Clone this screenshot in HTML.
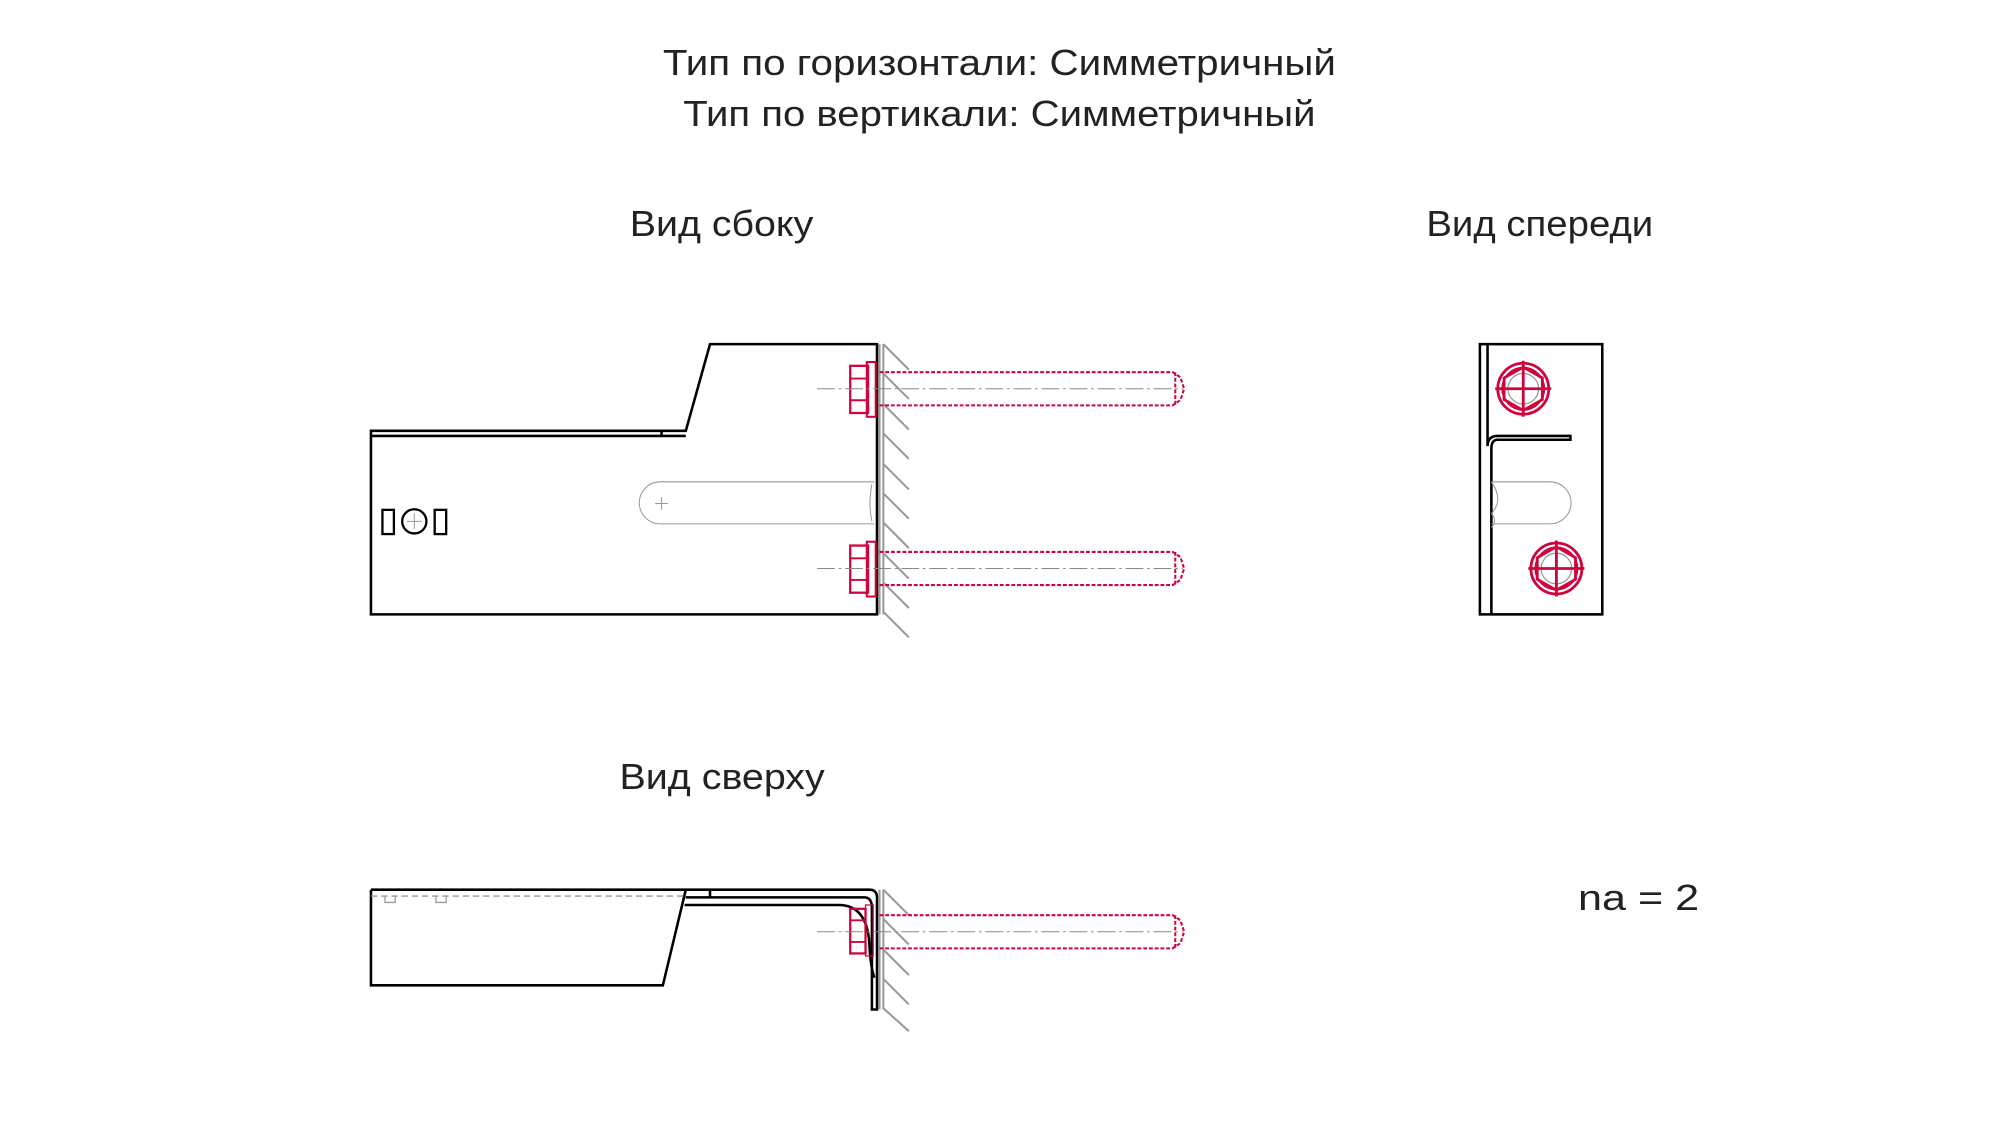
<!DOCTYPE html>
<html><head><meta charset="utf-8"><style>html,body{margin:0;padding:0;background:#fff}svg{display:block}</style></head>
<body>
<svg width="2000" height="1125" viewBox="0 0 1569 882.6" xmlns="http://www.w3.org/2000/svg" font-family="Liberation Sans, sans-serif">
<rect width="1569" height="882.6" fill="#fff"/>
<g fill="#222" font-size="28">
<text x="520" y="59" textLength="528" lengthAdjust="spacingAndGlyphs">Тип по горизонтали: Симметричный</text>
<text x="536" y="99" textLength="496" lengthAdjust="spacingAndGlyphs">Тип по вертикали: Симметричный</text>
<text x="494" y="185" textLength="144" lengthAdjust="spacingAndGlyphs">Вид сбоку</text>
<text x="1119" y="185" textLength="178" lengthAdjust="spacingAndGlyphs">Вид спереди</text>
<text x="486" y="619" textLength="161" lengthAdjust="spacingAndGlyphs">Вид сверху</text>
<text x="1238" y="714" textLength="95" lengthAdjust="spacingAndGlyphs">na = 2</text>
</g>

<g stroke="#999" stroke-width="1.6" fill="none">
<line x1="690" y1="270" x2="690" y2="482"/><line x1="693" y1="270" x2="693" y2="482"/>
<line x1="690" y1="698" x2="690" y2="792"/><line x1="693" y1="698" x2="693" y2="792"/>
</g>
<g stroke="#999" stroke-width="1.6">
<path d="M693 270l20 20M693 293l20 20M693 317l20 20M693 340l20 20M693 364l20 20M693 387l20 20M693 410l20 20M693 434l20 20M693 457l20 20M693 480l20 20"/>
<path d="M693 698l20 20M693 721l20 20M693 745l20 20M693 768l20 20M693 791l20 18"/>
</g>

<g stroke="#000" stroke-width="2" fill="none">
<path d="M291 338H538L557 270H688V482H291Z"/>
<line x1="291" y1="342" x2="538" y2="342"/>
<line x1="519" y1="338" x2="519" y2="342"/>
<rect x="300" y="400" width="9" height="19" stroke-width="1.8"/>
<rect x="341" y="400" width="9" height="19" stroke-width="1.8"/>
<circle cx="325" cy="409" r="9.5" stroke-width="1.8"/>
</g>
<g stroke="#999" stroke-width="0.8" fill="none">
<path d="M686 378H518A16.5 16.5 0 0 0 518 411H686"/>
<path d="M684 380Q681 395 684 409"/>
<path d="M514 395h10M519 390v10M319 409h12M325 403v12"/>
</g>

<g id="b1">
<g stroke="#d0043c" fill="none">
<rect x="667" y="287" width="14" height="37" stroke-width="1.8"/>
<path d="M667 297h14M667 314h14" stroke-width="1.5"/>
<rect x="680" y="284" width="7" height="43" stroke-width="1.6"/>
<path d="M690 292H920L926 296L929 305L926 314L920 318H690M922 292V318" stroke-width="1.6" stroke-dasharray="3 1.5"/>
</g>
<line x1="641" y1="305" x2="928" y2="305" stroke="#888" stroke-width="0.8" stroke-dasharray="14 3 2 3"/>
</g>
<use href="#b1" y="141"/>

<g stroke="#000" stroke-width="2" fill="none">
<path d="M291 698H682Q688 698 688 704V792H684V712Q684 704 678 704H538"/>
<path d="M291 698V773H520L538 698"/>
<path d="M537 710H658Q680 710 682 740Q683 760 686 767"/>
<line x1="557" y1="698" x2="557" y2="704"/>
</g>
<g stroke="#999" stroke-width="1" fill="none">
<line x1="291" y1="703" x2="537" y2="703" stroke-dasharray="5 3"/>
<path d="M302 703v5h8v-5M342 703v5h8v-5"/>
</g>
<g stroke="#d0043c" fill="none">
<rect x="667" y="713" width="12" height="35" stroke-width="1.8"/>
<path d="M667 722h12M667 739h12" stroke-width="1.5"/>
<rect x="679" y="710" width="6" height="40" stroke-width="1"/>
<path d="M690 718H920L926 722L929 731L926 740L920 744H690M922 718V744" stroke-width="1.6" stroke-dasharray="3 1.5"/>
</g>
<line x1="641" y1="731" x2="928" y2="731" stroke="#888" stroke-width="0.8" stroke-dasharray="14 3 2 3"/>

<g stroke="#000" stroke-width="2" fill="none">
<rect x="1161" y="270" width="96" height="212"/>
<path d="M1167 270V350Q1167 342 1175 342H1232V345H1175Q1170 345 1170 352V482"/>
</g>
<g stroke="#999" stroke-width="0.8" fill="none">
<path d="M1170 378H1216A16.5 16.5 0 0 1 1216 411H1170"/>
<path d="M1170 378Q1180 392 1170 403Q1175 408 1170 414"/>
</g>
<g id="fb">
<circle cx="1195" cy="305" r="12" stroke="#999" stroke-width="1" fill="none"/>
<g stroke="#d0043c" stroke-width="2.2" fill="none">
<circle cx="1195" cy="305" r="20"/>
<polygon points="1195,288 1210,296.5 1210,313.5 1195,322 1180,313.5 1180,296.5"/>
<circle cx="1195" cy="305" r="16.5" stroke-width="1.5"/>
<path d="M1173 305h44M1195 283v44"/>
</g>
</g>
<use href="#fb" x="26" y="141"/>
</svg>
</body></html>
